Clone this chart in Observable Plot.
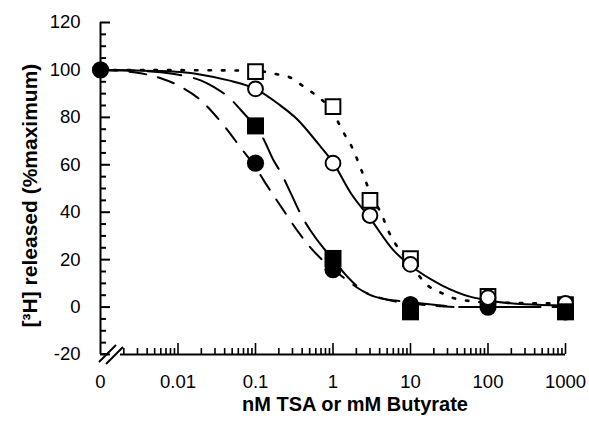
<!DOCTYPE html>
<html><head><meta charset="utf-8">
<script src="https://cdn.jsdelivr.net/npm/d3@7"></script>
<script src="https://cdn.jsdelivr.net/npm/@observablehq/plot@0.6"></script>
<style>body{margin:0;background:#fff}</style>
</head><body><div id="chart"></div>
<script>
// "0" is drawn at the 0.001 position of the log axis (axis break)
const ZERO = 0.001;
const xTicks = [0.001, 0.01, 0.1, 1, 10, 100, 1000];
const xTickLabels = ["0", "0.01", "0.1", "1", "10", "100", "1000"];
const yTicks = [-20, 0, 20, 40, 60, 80, 100, 120];
const yTickLabels = ["-20", "0", "20", "40", "60", "80", "100", "120"];
const xMinorMultipliers = [2, 3, 4, 5, 6, 7, 8, 9];
const xMinorDecades = [0.001, 0.01, 0.1, 1, 10, 100];
const yMinorTicks = [-15, -10, -5, 5, 10, 15, 25, 30, 35, 45, 50, 55, 65, 70, 75, 85, 90, 95, 105, 110, 115];

// measured points [concentration, % maximum]
const filledCircles = [[0.001, 100], [0.1, 60.7], [1, 15.8], [10, 1], [100, 0], [1000, -2]];
const openSquares = [[0.1, 99.3], [1, 84.5], [3, 45], [10, 20.4], [100, 4.5], [1000, 1]];
const openCircles = [[0.1, 92], [1, 60.7], [3, 38.6], [10, 18], [100, 4], [1000, 1.5]];
const filledSquares = [[0.1, 76.4], [1, 20.5], [10, -2], [1000, -2]];

// fitted curves
const curveSolid = [[0.001, 100], [0.006, 99.5], [0.02, 98], [0.045, 95.6], [0.1, 92], [0.2, 85.5], [0.35, 79], [0.64, 69], [1, 61], [1.7, 48], [3, 37.5], [6, 24], [10, 17.5], [25, 9.3], [60, 4.3], [100, 2.8], [300, 1.2], [1000, 0.7]];
const curveDotted = [[0.001, 100], [0.1, 99.7], [0.18, 98.3], [0.28, 96.8], [0.35, 94.7], [0.54, 90.5], [1, 82], [1.36, 73.7], [1.74, 67.7], [2.08, 61.8], [2.46, 55.7], [2.89, 49.8], [4.38, 38], [5.2, 32], [6.5, 26.3], [10, 18], [16.7, 9.1], [25.3, 5.9], [38.6, 3.5], [100, 2], [1000, 1.5]];
const curveDashCircles = [[0.001, 100], [0.002, 99.5], [0.003, 98.8], [0.006, 96.5], [0.01, 93.5], [0.02, 87], [0.03, 81], [0.045, 74], [0.065, 67], [0.1, 59], [0.13, 53], [0.18, 46], [0.25, 39], [0.35, 32], [0.5, 25.5], [0.75, 19.5], [1, 16], [1.3, 13], [1.8, 9.5], [2.5, 6.5], [4, 4], [6, 2.5], [10, 1.5], [20, 0.5], [50, 0], [1000, 0]];
const curveDashSquares = [[0.001, 100], [0.003, 99.7], [0.006, 99], [0.012, 97.5], [0.02, 95.5], [0.03, 92.5], [0.045, 88.5], [0.065, 83], [0.1, 76], [0.124, 71.5], [0.17, 62], [0.214, 56.5], [0.29, 47.5], [0.4, 38], [0.52, 32], [0.75, 25], [1, 20.5], [1.3, 15.5], [1.8, 10.5], [2.5, 6.5], [4, 3.8], [7.5, 2.5], [10, 2], [20, 1], [50, 0], [1000, 0]];

const xMinorTicks = xMinorDecades.flatMap(d => xMinorMultipliers.map(m => +(d * m).toPrecision(3)));
const xMajorInner = xTicks.slice(1);

const W = 589, H = 422, mL = 100, mR = 24, mT = 22, mB = 68;
const innerW = W - mL - mR, innerH = H - mT - mB;

function axisBreak(index, scales) {
  const x0 = scales.x(ZERO), yb = scales.y(-20);
  const g = d3.create("svg:g").attr("stroke", "black").attr("stroke-width", 2).attr("fill", "none");
  g.append("path").attr("d", `M${x0},${yb}H${x0 + 6}`);
  g.append("path").attr("d", `M${x0 - 1},${yb + 8}L${x0 + 16},${yb - 9}`);
  g.append("path").attr("d", `M${x0 + 6},${yb + 10}L${x0 + 23},${yb - 7}`);
  return g.node();
}

const ptX = d => d[0], ptY = d => d[1];

const chart = Plot.plot({
  width: W, height: H,
  marginLeft: mL, marginRight: mR, marginTop: mT, marginBottom: mB,
  style: {fontFamily: "'Liberation Sans', Arial, Helvetica, sans-serif", background: "white", color: "black", overflow: "visible"},
  x: {type: "log", domain: [0.001, 1000]},
  y: {domain: [-20, 120]},
  marks: [
    // spines
    Plot.ruleX([ZERO], {y1: -20, y2: 120, stroke: "black", strokeWidth: 2}),
    Plot.ruleY([-20], {x1: 0.00181, x2: 1000, stroke: "black", strokeWidth: 2}),
    axisBreak,
    // ticks (inward)
    Plot.tickY(yTicks, {y: d => d, insetRight: innerW - 10, stroke: "black", strokeWidth: 2}),
    Plot.tickY(yMinorTicks, {y: d => d, insetRight: innerW - 6, stroke: "black", strokeWidth: 2}),
    Plot.tickX(xMajorInner, {x: d => d, insetTop: innerH - 11, stroke: "black", strokeWidth: 1.6}),
    Plot.tickX(xMinorTicks, {x: d => d, insetTop: innerH - 6, stroke: "black", strokeWidth: 1.6}),
    Plot.axisX({ticks: xTicks, tickSize: 0, tickPadding: 20, fontSize: 18.5, label: null,
      tickFormat: d => xTickLabels[xTicks.indexOf(d)]}),
    Plot.axisY({ticks: yTicks, tickSize: 0, tickPadding: 20, fontSize: 18.5, label: null,
      tickFormat: d => yTickLabels[yTicks.indexOf(d)]}),
    // fitted curves
    Plot.line(curveSolid, {x: ptX, y: ptY, curve: "monotone-x", stroke: "black", strokeWidth: 2}),
    Plot.line(curveDotted, {x: ptX, y: ptY, curve: "monotone-x", stroke: "black", strokeWidth: 2.6, strokeDasharray: "2.5,11"}),
    Plot.line(curveDashCircles, {x: ptX, y: ptY, curve: "monotone-x", stroke: "black", strokeWidth: 2, strokeDasharray: "17,12"}),
    Plot.line(curveDashSquares, {x: ptX, y: ptY, curve: "monotone-x", stroke: "black", strokeWidth: 2, strokeDasharray: "34,13"}),
    // data points
    Plot.dot(filledCircles, {x: ptX, y: ptY, r: 8.6, fill: "black", stroke: "none"}),
    Plot.dot(openSquares, {x: ptX, y: ptY, symbol: "square", r: 8.3, fill: "white", stroke: "black", strokeWidth: 2}),
    Plot.dot(openCircles, {x: ptX, y: ptY, r: 7.4, fill: "white", stroke: "black", strokeWidth: 2}),
    Plot.dot(filledSquares, {x: ptX, y: ptY, symbol: "square", r: 9.6, fill: "black", stroke: "none"}),
    // titles
    Plot.text(["[³H] released (%maximum)"], {frameAnchor: "left", textAnchor: "middle", lineAnchor: "middle", dx: -70, dy: 7, rotate: -90, fontWeight: "bold", fontSize: 21, fill: "black"}),
    Plot.text(["nM TSA or mM Butyrate"], {frameAnchor: "bottom", textAnchor: "middle", lineAnchor: "middle", dx: 22, dy: 50, fontWeight: "bold", fontSize: 20, fill: "black"})
  ]
});
document.getElementById("chart").appendChild(chart);
</script>
</body></html>
